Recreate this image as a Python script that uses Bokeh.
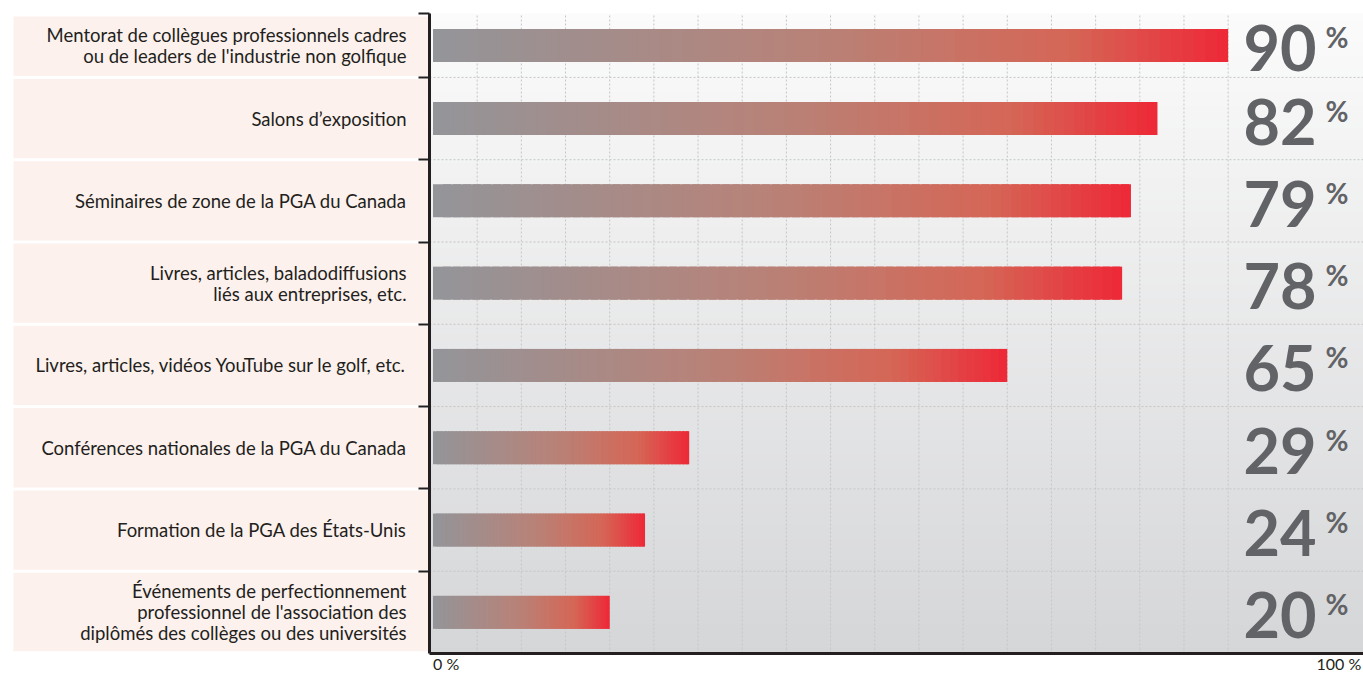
from bokeh.plotting import figure
from bokeh.models import Range1d, LinearAxis, FixedTicker
from bokeh.embed import file_html
from bokeh.resources import INLINE
from bokeh.core.properties import value

# ---------------- data ----------------
categories = [
    "Mentorat de collègues professionnels cadres\nou de leaders de l'industrie non golfique",
    "Salons d’exposition",
    "Séminaires de zone de la PGA du Canada",
    "Livres, articles, baladodiffusions\nliés aux entreprises, etc.",
    "Livres, articles, vidéos YouTube sur le golf, etc.",
    "Conférences nationales de la PGA du Canada",
    "Formation de la PGA des États-Unis",
    "Événements de perfectionnement\nprofessionnel de l'association des\ndiplômés des collèges ou des universités",
]
percentages = [90, 82, 79, 78, 65, 29, 24, 20]
x_tick_values = [0, 100]
x_tick_labels = ["0 %", "100 %"]
grid_values = list(range(5, 95, 5))

# ---------------- layout constants (pixels) ----------------
W, H = 1363, 674
PX_PER_PCT = 8.835
ZERO_PX = 432.5          # px of 0 %
BASE_PX = 653            # px of the x axis line
ROW_PX = 82.3

def xd(px):
    return (px - ZERO_PX) / PX_PER_PCT

def yd(py):
    return (BASE_PX - py) / ROW_PX

axis_x = xd(429)
axis_top = yd(13)
x_end = xd(W)

n = len(categories)
row_bottom = [n - 1 - i for i in range(n)]
row_top = [min(b + 1, axis_top) for b in row_bottom]
centers = [(b + t) / 2 for b, t in zip(row_bottom, row_top)]

p = figure(width=W, height=H, x_range=Range1d(xd(0), x_end), y_range=Range1d(yd(H), yd(0)),
           x_axis_type=None, y_axis_type=None, toolbar_location=None, output_backend="svg",
           min_border_left=0, min_border_right=0, min_border_top=0, min_border_bottom=0,
           outline_line_color=None, background_fill_color="white", border_fill_color="white")
p.xgrid.visible = False
p.ygrid.visible = False

def lerp(c0, c1, t):
    return tuple(c0[k] + (c1[k] - c0[k]) * t for k in range(3))

def hexc(c):
    return "#%02x%02x%02x" % tuple(int(round(v)) for v in c)

# ---- background vertical gradient in plot area ----
M = 90
bg_bottom, bg_top = (213, 214, 216), (251, 251, 251)
bl, br, bb, bt, bc = [], [], [], [], []
for j in range(M):
    y0 = axis_top * j / M
    y1 = axis_top * (j + 1.6) / M if j < M - 1 else axis_top
    bl.append(axis_x); br.append(x_end); bb.append(y0); bt.append(y1)
    bc.append(hexc(lerp(bg_bottom, bg_top, (j + 0.5) / M)))
p.quad(left=bl, right=br, bottom=bb, top=bt, fill_color=bc, line_color=None, level="image")

# ---- label panels ----
gap = 1.5 / ROW_PX
pl, pr, pb, pt = [], [], [], []
for i in range(n):
    pl.append(xd(13)); pr.append(xd(427.5))
    pb.append(row_bottom[i] + (2.3 / ROW_PX if row_bottom[i] == 0 else gap))
    pt.append(yd(16) if i == 0 else row_top[i] - gap)
p.quad(left=pl, right=pr, bottom=pb, top=pt, fill_color="#fcf1ed", line_color=None, level="image")

# ---- grid (dotted) ----
p.segment(x0=grid_values, x1=grid_values, y0=[0] * len(grid_values), y1=[axis_top] * len(grid_values),
          line_color="#c6c6c8", line_dash="2 2", line_width=1, level="underlay")
sep_y = [b + 1 for b in row_bottom if b + 1 < axis_top]
p.segment(x0=[axis_x] * len(sep_y), x1=[x_end] * len(sep_y), y0=sep_y, y1=sep_y,
          line_color="#c6c6c8", line_dash="2 2", line_width=1, level="underlay")

# ---- gradient bars ----
stops = [(0.0, (147, 149, 153)), (0.5, (186, 129, 118)), (0.8, (213, 102, 86)), (1.0, (238, 40, 55))]

def grad(t):
    for (t0, c0), (t1, c1) in zip(stops[:-1], stops[1:]):
        if t <= t1:
            return lerp(c0, c1, (t - t0) / (t1 - t0))
    return stops[-1][1]

N = 70
half = 16.5 / ROW_PX
ql, qr, qb, qt, qc = [], [], [], [], []
for v, c in zip(percentages, centers):
    for s in range(N):
        l = v * s / N
        r = v * min(s + 1.8, N) / N
        ql.append(l); qr.append(r); qb.append(c - half); qt.append(c + half)
        qc.append(hexc(grad((s + 0.5) / N)))
p.quad(left=ql, right=qr, bottom=qb, top=qt, fill_color=qc, line_color=None)

# ---- texts ----
p.text(x=[xd(406)] * n, y=centers, text=categories, text_font=value("Lato"),
       text_font_size="18.5px", text_color="#231f20", text_align="right",
       text_baseline="middle", text_line_height=0.95)
p.text(x=[xd(1243)] * n, y=centers, text=[str(v) for v in percentages], text_font=value("Lato"),
       text_font_style="bold", text_font_size="63px", text_color="#626366",
       text_align="left", text_baseline="alphabetic", y_offset=3)
p.text(x=[xd(1325)] * n, y=centers, text=["%"] * n, text_font=value("Lato"),
       text_font_style="bold", text_font_size="28px", text_color="#626366",
       text_align="left", text_baseline="alphabetic", y_offset=-8)

# ---- axes ----
xaxis = LinearAxis(fixed_location=0, ticker=FixedTicker(ticks=x_tick_values), bounds=(axis_x, x_end),
                   major_label_overrides=dict(zip(x_tick_values, x_tick_labels)),
                   axis_line_width=3, axis_line_color="#231f20",
                   major_tick_line_color=None, major_tick_out=0, major_tick_in=0,
                   minor_tick_line_color=None, major_label_standoff=10,
                   major_label_text_font="Lato", major_label_text_font_size="16px",
                   major_label_text_color="#231f20", major_label_orientation=-1e-9)
p.add_layout(xaxis, "below")

yaxis = LinearAxis(fixed_location=axis_x, bounds=(0, axis_top),
                   ticker=FixedTicker(ticks=sep_y + [axis_top]),
                   axis_line_width=3, axis_line_color="#231f20",
                   major_tick_out=11, major_tick_in=0, major_tick_line_width=2,
                   major_tick_line_color="#231f20", minor_tick_line_color=None,
                   major_label_text_font_size="0px", major_label_text_color=None)
p.add_layout(yaxis, "left")

open("out.html", "w").write(file_html(p, INLINE))
